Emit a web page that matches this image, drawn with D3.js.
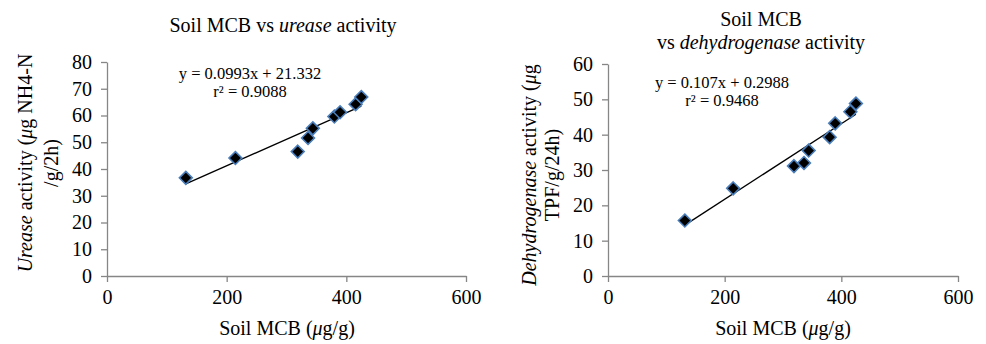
<!DOCTYPE html>
<html><head><meta charset="utf-8">
<script src="https://cdn.jsdelivr.net/npm/d3@7"></script>
<style>
html,body{margin:0;padding:0;background:#fff;}
svg text{font-family:"Liberation Serif","DejaVu Serif",serif;fill:#000;}
</style></head>
<body><svg id="c" width="986" height="344"></svg>
<script>
const mcb = [131.7, 214.6, 318.8, 336, 344, 380, 389.5, 415.5, 425];
const urease = [36.7, 44.1, 46.5, 51.6, 55.2, 59.6, 61.2, 64.2, 66.9];
const dehydrogenase = [15.7, 24.8, 31.1, 32.0, 35.5, 39.3, 43.2, 46.5, 48.8];
const xTicks = [0, 200, 400, 600];
const ureaseTicks = [0, 10, 20, 30, 40, 50, 60, 70, 80];
const dehydTicks = [0, 10, 20, 30, 40, 50, 60];
const ureaseFit = {slope: 0.0993, intercept: 21.332, eq: "y = 0.0993x + 21.332", r2: "r\u00B2 = 0.9088"};
const dehydFit = {slope: 0.107, intercept: 0.2988, eq: "y = 0.107x + 0.2988", r2: "r\u00B2 = 0.9468"};

const svg = d3.select("#c");
const FS = 20;
const SERIF = "Liberation Serif";

function panel(cfg){
  const g = svg.append("g");
  const x = d3.scaleLinear().domain([0,600]).range([cfg.x0, cfg.x1]);
  const y = d3.scaleLinear().domain([0, cfg.ymax]).range([cfg.y0, cfg.y1]);
  const axisColor = "#868686";
  const xa = g.append("g").attr("transform",`translate(0,${cfg.y0})`)
    .call(d3.axisBottom(x).tickValues(xTicks).tickSize(6).tickPadding(8).tickSizeOuter(0));
  const ya = g.append("g").attr("transform",`translate(${cfg.x0},0)`)
    .call(d3.axisLeft(y).tickValues(cfg.yTicks).tickSize(6).tickPadding(9).tickSizeOuter(0));
  [xa, ya].forEach(a=>{
    a.attr("font-family",SERIF).attr("font-size",FS);
    a.select(".domain").attr("stroke",axisColor).attr("stroke-width",1.3);
    a.selectAll(".tick line").attr("stroke",axisColor).attr("stroke-width",1.3);
    a.selectAll(".tick text").attr("font-family",SERIF).attr("font-size",FS).attr("fill","#000");
  });
  const ext = d3.extent(cfg.xs);
  g.append("line")
    .attr("x1", x(ext[0])).attr("y1", y(cfg.fit.slope*ext[0]+cfg.fit.intercept))
    .attr("x2", x(ext[1])).attr("y2", y(cfg.fit.slope*ext[1]+cfg.fit.intercept))
    .attr("stroke","#000").attr("stroke-width",1.3);
  const sym = d3.symbol().type(d3.symbolDiamond2).size(105);
  g.selectAll("path.pt").data(cfg.xs.map((v,i)=>[v,cfg.ys[i]])).enter().append("path")
    .attr("class","pt").attr("d",sym)
    .attr("transform",d=>`translate(${x(d[0])},${y(d[1])})`)
    .attr("fill","#000").attr("stroke","#4a7ebb").attr("stroke-width",1.6);
  g.append("text").attr("x",cfg.eqx).attr("y",cfg.eqy).attr("text-anchor","middle").attr("font-size",16.5).text(cfg.fit.eq);
  g.append("text").attr("x",cfg.eqx).attr("y",cfg.eqy+18).attr("text-anchor","middle").attr("font-size",16.5).text(cfg.fit.r2);
  const xt = g.append("text").attr("x",cfg.xtx).attr("y",335).attr("text-anchor","middle").attr("font-size",FS);
  xt.append("tspan").text("Soil MCB (");
  xt.append("tspan").attr("font-style","italic").text("\u03BC");
  xt.append("tspan").text("g/g)");
  return {g,x,y};
}

panel({x0:107, x1:466, y0:276, y1:62, ymax:80, yTicks:ureaseTicks, xs:mcb, ys:urease, fit:ureaseFit, eqx:250, eqy:79, xtx:287});
panel({x0:608, x1:958, y0:276, y1:64, ymax:60, yTicks:dehydTicks, xs:mcb, ys:dehydrogenase, fit:dehydFit, eqx:722, eqy:88, xtx:783});

const t1 = svg.append("text").attr("x",283).attr("y",32).attr("text-anchor","middle").attr("font-size",FS);
t1.append("tspan").text("Soil MCB vs ");
t1.append("tspan").attr("font-style","italic").text("urease");
t1.append("tspan").text(" activity");

svg.append("text").attr("x",761).attr("y",26).attr("text-anchor","middle").attr("font-size",FS).text("Soil MCB");
const t2 = svg.append("text").attr("x",761).attr("y",49).attr("text-anchor","middle").attr("font-size",FS);
t2.append("tspan").text("vs ");
t2.append("tspan").attr("font-style","italic").text("dehydrogenase");
t2.append("tspan").text(" activity");

function ytitle(cx, cy, gap, lines){
  const t = svg.append("text").attr("transform",`translate(${cx},${cy}) rotate(-90)`).attr("text-anchor","middle").attr("font-size",FS);
  lines.forEach((ln,i)=>{
    const ts = t.append("tspan").attr("x",0).attr("dy", i===0?0:gap);
    ln.forEach(seg=>{
      ts.append("tspan").attr("font-style", seg[1]?"italic":"normal").text(seg[0]);
    });
  });
}
ytitle(32, 163, 26, [[["Urease",true],[" activity (",false],["\u03BC",true],["g NH4-N",false]],[["/g/2h)",false]]]);
ytitle(536, 175, 23, [[["Dehydrogenase",true],[" activity (",false],["\u03BC",true],["g",false]],[["TPF/g/24h)",false]]]);
</script></body></html>
